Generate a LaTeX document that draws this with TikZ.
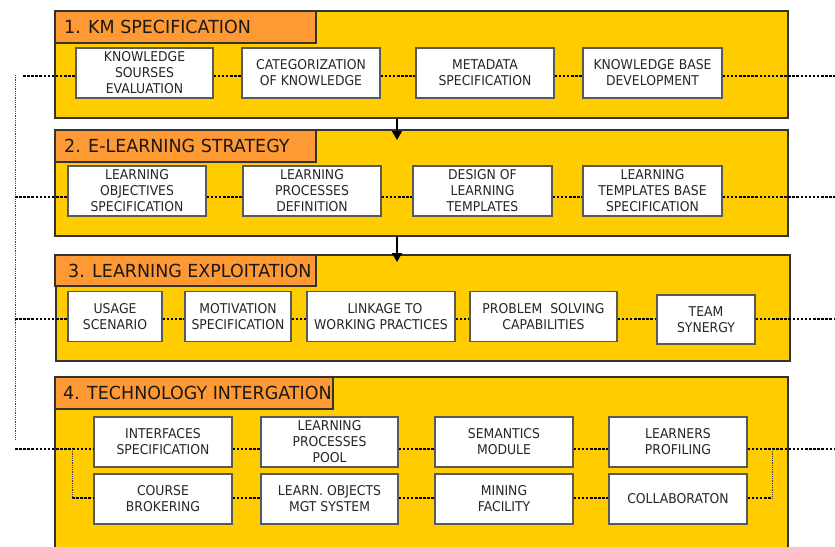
\documentclass[tikz,border=0pt]{standalone}
\usepackage{fontspec}
\setmainfont{DejaVu Sans}
\newfontfamily\boxfont[FakeStretch=0.92]{DejaVu Sans}
\newfontfamily\ttlfont[FakeStretch=0.97]{DejaVu Sans}
\usetikzlibrary{arrows.meta,calc}
\definecolor{panelyellow}{HTML}{FFCC00}
\definecolor{taborange}{HTML}{FF9933}
\begin{document}
\begin{tikzpicture}[x=1pt,y=-1pt,
 panel/.style={draw=black!80, line width=1.5pt, fill=panelyellow, anchor=north west, inner sep=0pt},
 tabbox/.style={draw=black!80, line width=1.5pt, fill=taborange, anchor=north west, inner sep=0pt},
 ttl/.style={anchor=base west, inner sep=0pt, font=\ttlfont\fontsize{18}{20}\selectfont, text=black!90},
 box/.style={draw=black!65, line width=1.3pt, fill=white, align=center, inner sep=0pt, minimum height=50pt, font=\boxfont\fontsize{13.5}{16}\selectfont, text=black!85},
 dotl/.style={line width=2.7pt, dash pattern=on 2.5pt off 1.6pt},
 thind/.style={line width=1pt, black!75, dash pattern=on 1pt off 0.8pt},
 arr/.style={line width=1.5pt, -{Triangle[length=9pt,width=10pt]}}
]
\useasboundingbox (0,0) rectangle (835,546);
\clip (0,0) rectangle (835,546);

% panels
\node[panel, minimum width=733pt, minimum height=107pt] (P1) at (54,10) {};
\node[tabbox, minimum width=261pt, minimum height=32pt] (T1) at (54,10) {};
\node[ttl] (t1) at (64,33) {1. KM SPECIFICATION};

\node[panel, minimum width=733pt, minimum height=106pt] (P2) at (54,129) {};
\node[tabbox, minimum width=261pt, minimum height=32pt] (T2) at (54,129) {};
\node[ttl] (t2) at (64,152) {2. E-LEARNING STRATEGY};

\node[panel, minimum width=734pt, minimum height=106pt] (P3) at (55,254) {};
\node[tabbox, minimum width=261pt, minimum height=31pt] (T3) at (54,254) {};
\node[ttl] (t3) at (68,277) {3. LEARNING EXPLOITATION};

\node[panel, minimum width=733pt, minimum height=200pt] (P4) at (54,376) {};
\node[tabbox, minimum width=278pt, minimum height=32pt] (T4) at (54,376) {};
\node[ttl] (t4) at (63,399) {4. TECHNOLOGY INTERGATION};

% boxes panel 1
\node[box, minimum width=137pt] (k1) at (144.5,73) {KNOWLEDGE\\SOURSES\\EVALUATION};
\node[box, minimum width=138pt] (k2) at (311,73) {CATEGORIZATION\\OF KNOWLEDGE};
\node[box, minimum width=138pt] (k3) at (485,73) {METADATA\\SPECIFICATION};
\node[box, minimum width=139pt] (k4) at (652.5,73) {KNOWLEDGE BASE\\DEVELOPMENT};

% boxes panel 2
\node[box, minimum width=138pt] (e1) at (137,191) {LEARNING\\OBJECTIVES\\SPECIFICATION};
\node[box, minimum width=138pt] (e2) at (312,191) {LEARNING\\PROCESSES\\DEFINITION};
\node[box, minimum width=139pt] (e3) at (482.5,191) {DESIGN OF\\LEARNING\\TEMPLATES};
\node[box, minimum width=139pt] (e4) at (652.5,191) {LEARNING\\TEMPLATES BASE\\SPECIFICATION};

% boxes panel 3
\node[box, minimum width=94pt] (l1) at (115,316.5) {USAGE\\SCENARIO};
\node[box, minimum width=106pt] (l2) at (238,316.5) {MOTIVATION\\SPECIFICATION};
\node[box, minimum width=148pt] (l3) at (381,316.5) {\hspace*{8pt}LINKAGE TO\\WORKING PRACTICES};
\node[box, minimum width=147pt] (l4) at (543.5,316.5) {PROBLEM\ \ SOLVING\\CAPABILITIES};
\node[box, minimum width=98pt, minimum height=49pt] (l5) at (706,319.5) {TEAM\\SYNERGY};

% boxes panel 4
\node[box, minimum width=138pt] (n1) at (163,442) {INTERFACES\\SPECIFICATION};
\node[box, minimum width=137pt] (n2) at (329.5,442) {LEARNING\\PROCESSES\\POOL};
\node[box, minimum width=138pt] (n3) at (504,442) {SEMANTICS\\MODULE};
\node[box, minimum width=138pt] (n4) at (678,442) {LEARNERS\\PROFILING};
\node[box, minimum width=138pt] (m1) at (163,499) {COURSE\\BROKERING};
\node[box, minimum width=137pt] (m2) at (329.5,499) {LEARN. OBJECTS\\MGT SYSTEM};
\node[box, minimum width=138pt] (m3) at (504,499) {MINING\\FACILITY};
\node[box, minimum width=138pt] (m4) at (678,499) {COLLABORATON};

% coordinates
\coordinate (L1) at (23,76);   \coordinate (R1) at (835,76);
\coordinate (L2) at (15,197);  \coordinate (R2) at (835,197);
\coordinate (L3) at (15,319);  \coordinate (R3) at (835,319);
\coordinate (L4) at (15,449);  \coordinate (R4) at (835,449);
\coordinate (BL) at (72,449);  \coordinate (BLb) at (72,498);
\coordinate (BR) at (772,449); \coordinate (BRb) at (772,498);
\coordinate (V1) at (15,75);   \coordinate (V2) at (15,440);
\coordinate (A1) at (397,140); \coordinate (A2) at (397,262);

% left vertical line
\draw[thind] (V1) -- (V2);

% dotted connectors
\draw[dotl] (L1) -- (k1.west |- L1) (k1.east |- L1) -- (k2.west |- L1)
  (k2.east |- L1) -- (k3.west |- L1) (k3.east |- L1) -- (k4.west |- L1)
  (k4.east |- L1) -- (R1);
\draw[dotl] (L2) -- (e1.west |- L2) (e1.east |- L2) -- (e2.west |- L2)
  (e2.east |- L2) -- (e3.west |- L2) (e3.east |- L2) -- (e4.west |- L2)
  (e4.east |- L2) -- (R2);
\draw[dotl] (L3) -- (l1.west |- L3) (l1.east |- L3) -- (l2.west |- L3)
  (l2.east |- L3) -- (l3.west |- L3) (l3.east |- L3) -- (l4.west |- L3)
  (l4.east |- L3) -- (l5.west |- L3) (l5.east |- L3) -- (R3);
\draw[dotl] (L4) -- (n1.west |- L4) (n1.east |- L4) -- (n2.west |- L4)
  (n2.east |- L4) -- (n3.west |- L4) (n3.east |- L4) -- (n4.west |- L4)
  (n4.east |- L4) -- (R4);
\draw[dotl] (BLb) -- (m1.west |- BLb) (m1.east |- BLb) -- (m2.west |- BLb)
  (m2.east |- BLb) -- (m3.west |- BLb) (m3.east |- BLb) -- (m4.west |- BLb)
  (m4.east |- BLb) -- (BRb);
\draw[thind] (BL) -- (BLb);
\draw[thind] (BR) -- (BRb);

% arrows
\draw[arr] (P1.south -| A1) -- (A1);
\draw[arr] (P2.south -| A2) -- (A2);
\end{tikzpicture}
\end{document}
